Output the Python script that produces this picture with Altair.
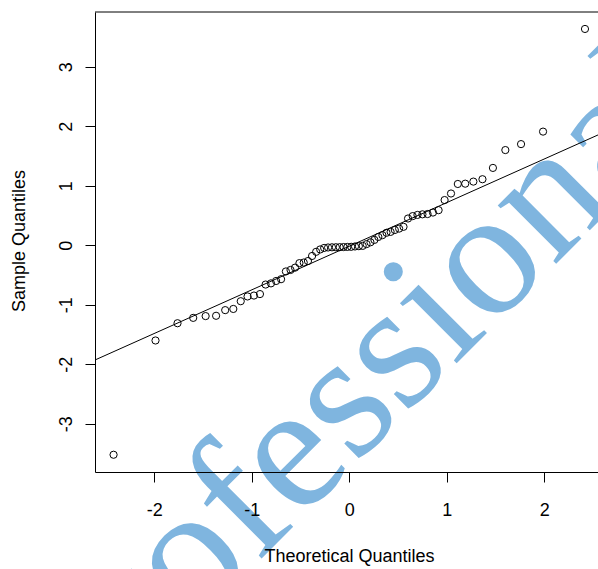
import altair as alt
import pandas as pd

# Normal Q-Q plot values
theoretical = [
    -2.4175, -1.9874, -1.7617, -1.6007, -1.4733, -1.3660, -1.2727, -1.1894,
    -1.1132, -1.0434, -0.9777, -0.9161, -0.8583, -0.8030, -0.7503, -0.6994,
    -0.6502, -0.6026, -0.5563, -0.5112, -0.4671, -0.4239, -0.3817, -0.3399,
    -0.2982, -0.2577, -0.2173, -0.1774, -0.1377, -0.0982, -0.0588, -0.0196,
    0.0196, 0.0588, 0.0982, 0.1377, 0.1774, 0.2173, 0.2577, 0.2982,
    0.3399, 0.3817, 0.4239, 0.4671, 0.5112, 0.5563, 0.6026, 0.6502,
    0.6994, 0.7503, 0.8030, 0.8583, 0.9161, 0.9777, 1.0434, 1.1132,
    1.1894, 1.2727, 1.3660, 1.4733, 1.6007, 1.7617, 1.9874, 2.4175,
]
sample = [
    -3.52, -1.60, -1.31, -1.22, -1.19, -1.185, -1.09, -1.07,
    -0.94, -0.86, -0.845, -0.82, -0.66, -0.64, -0.60, -0.57,
    -0.44, -0.415, -0.376, -0.30, -0.29, -0.265, -0.18, -0.11,
    -0.07, -0.045, -0.037, -0.034, -0.033, -0.032, -0.030, -0.028,
    -0.026, -0.020, -0.015, -0.010, 0.02, 0.05, 0.09, 0.14,
    0.17, 0.21, 0.225, 0.257, 0.28, 0.31, 0.45, 0.49,
    0.51, 0.52, 0.525, 0.55, 0.59, 0.76, 0.87, 1.03,
    1.035, 1.07, 1.11, 1.30, 1.60, 1.70, 1.91, 3.635,
]
x_ticks = [-2, -1, 0, 1, 2]
y_ticks = [-3, -2, -1, 0, 1, 2, 3]
x_domain = [-2.608, 2.551]
y_domain = [-3.81, 3.92]
qq_intercept = -0.016
qq_slope = 0.733
watermark = ["Professional"]

W, H = 503, 460
FONT = "Liberation Sans"
FS = 18

pts_df = pd.DataFrame({"theoretical": theoretical, "sample": sample})
line_df = pd.DataFrame({
    "theoretical": x_domain,
    "sample": [qq_intercept + qq_slope * v for v in x_domain],
})

xscale = alt.Scale(domain=x_domain, nice=False, zero=False)
yscale = alt.Scale(domain=y_domain, nice=False, zero=False)

xaxis = alt.Axis(
    values=x_ticks, grid=False, tickSize=10, tickColor="black", tickWidth=1,
    domainColor="black", domainWidth=1, labelFont=FONT, labelFontSize=FS,
    labelColor="black", labelPadding=19, labelExpr="'' + datum.value",
    title="Theoretical Quantiles", titleFont=FONT, titleFontSize=FS,
    titleFontWeight="normal", titleColor="black", titleX=254, titleY=89,
    titleBaseline="alphabetic", titleAlign="center", zindex=1,
)
yaxis = alt.Axis(
    values=y_ticks, grid=False, tickSize=10, tickColor="black", tickWidth=1,
    domainColor="black", domainWidth=1, labelFont=FONT, labelFontSize=FS,
    labelColor="black", labelAngle=270, labelAlign="center",
    labelBaseline="alphabetic", labelPadding=14, labelExpr="'' + datum.value",
    title="Sample Quantiles", titleFont=FONT, titleFontSize=FS,
    titleFontWeight="normal", titleColor="black", titleAngle=270,
    titleX=-70.6, titleY=228.5, titleBaseline="alphabetic", titleAlign="center",
    zindex=1,
)

wm = alt.Chart(pd.DataFrame({"t": watermark})).mark_text(
    font="Liberation Serif", fontSize=180, color="#7fb5df", angle=315,
    align="center", baseline="alphabetic",
).encode(text="t:N", x=alt.value(299), y=alt.value(414))

top_rule = alt.Chart(pd.DataFrame({"a": [0]})).mark_rule(
    color="black", strokeWidth=1
).encode(x=alt.value(0), x2=alt.value(W), y=alt.value(0))

line = alt.Chart(line_df).mark_line(color="black", strokeWidth=1, clip=True).encode(
    x=alt.X("theoretical:Q", scale=xscale, axis=xaxis),
    y=alt.Y("sample:Q", scale=yscale, axis=yaxis),
)

pts = alt.Chart(pts_df).mark_point(
    shape="circle", filled=False, color="black", size=52, strokeWidth=1, opacity=1
).encode(
    x=alt.X("theoretical:Q", scale=xscale, axis=xaxis),
    y=alt.Y("sample:Q", scale=yscale, axis=yaxis),
)

chart = alt.layer(wm, top_rule, line, pts).properties(
    width=W, height=H,
    autosize=alt.AutoSizeParams(type="none"),
    padding={"left": 95, "top": 12, "right": 0, "bottom": 97},
    background="white",
).configure_view(stroke=None)

chart.save("out.html", embed_options={"renderer": "svg", "actions": False})
